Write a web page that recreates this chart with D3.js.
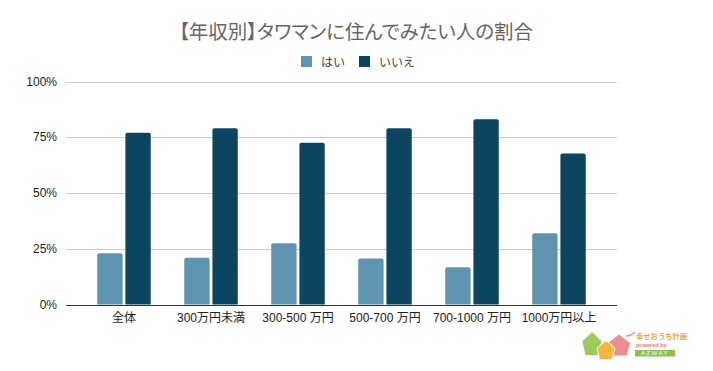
<!DOCTYPE html>
<html>
<head>
<meta charset="utf-8">
<script src="https://cdn.jsdelivr.net/npm/d3@7"></script>
<style>
  body { margin: 0; background: #fff; }
  svg { display: block; font-family: 'Liberation Sans', 'Noto Sans CJK JP', sans-serif; }
  .jp { font-feature-settings: "palt"; }
</style>
</head>
<body>
<svg id="chart" width="713" height="371"></svg>
<script>
let categories = ['全体', '300万円未満', '300-500 万円', '500-700 万円', '700-1000 万円', '1000万円以上']
let seriesNames = ['はい', 'いいえ']
let hai = [23, 21, 27.5, 20.6, 16.7, 32]
let iie = [77, 79, 72.5, 79, 83.1, 67.7]
let yTicks = [0, 25, 50, 75, 100]

let colors = ['#5f94b1', '#0b4560']

let plot = { left: 66, right: 617, top: 81.5, bottom: 304.5 }

let svg = d3.select('#chart')

let rows = categories.map((c, i) => ({ cat: c, values: [hai[i], iie[i]] }))

let x0 = d3.scaleBand()
  .domain(categories)
  .range([80.5, 602.5])

let x1 = d3.scaleBand()
  .domain(seriesNames)
  .range([0, 53.5])
  .paddingInner(0.1)

let y = d3.scaleLinear()
  .domain([0, 100])
  .range([plot.bottom, plot.top])

// title
svg.append('text')
  .attr('class', 'jp')
  .attr('x', 356)
  .attr('y', 30)
  .attr('text-anchor', 'middle')
  .attr('dominant-baseline', 'central')
  .attr('font-family', "'Noto Sans CJK JP', sans-serif")
  .attr('font-size', 19.5)
  .attr('fill', '#666')
  .text('【年収別】タワマンに住んでみたい人の割合')

// legend
let legend = svg.append('g')
let legendX = [301, 359]
seriesNames.forEach((name, i) => {
  legend.append('rect')
    .attr('x', legendX[i])
    .attr('y', 56)
    .attr('width', 11)
    .attr('height', 11)
    .attr('fill', colors[i])
  legend.append('text')
    .attr('x', legendX[i] + 20)
    .attr('y', 61.5)
    .attr('dominant-baseline', 'central')
    .attr('font-family', "'Noto Sans CJK JP', sans-serif")
    .attr('font-size', 12)
    .attr('fill', '#444')
    .text(name)
})

// gridlines + y labels
let yAxis = svg.append('g')
yAxis.selectAll('.grid')
  .data(yTicks.filter(d => d > 0))
  .enter()
  .append('line')
  .attr('x1', plot.left)
  .attr('x2', plot.right)
  .attr('y1', d => Math.round(y(d)) + 0.5)
  .attr('y2', d => Math.round(y(d)) + 0.5)
  .attr('stroke', '#cccccc')
  .attr('stroke-width', 1)

yAxis.selectAll('.ylab')
  .data(yTicks)
  .enter()
  .append('text')
  .attr('x', 57)
  .attr('y', d => y(d))
  .attr('text-anchor', 'end')
  .attr('dominant-baseline', 'central')
  .attr('font-size', 12)
  .attr('fill', '#222')
  .text(d => d + '%')

// bars
function topRounded(x, yTop, w, yBase, r) {
  return `M${x},${yBase}V${yTop + r}Q${x},${yTop} ${x + r},${yTop}H${x + w - r}Q${x + w},${yTop} ${x + w},${yTop + r}V${yBase}Z`
}

svg.selectAll('.group')
  .data(rows)
  .enter()
  .append('g')
  .attr('class', 'group')
  .attr('transform', d => `translate(${x0(d.cat) + (x0.bandwidth() - 53.5) / 2},0)`)
  .each(function(d) {
    d3.select(this)
      .selectAll('path')
      .data(d.values.map((v, i) => ({ key: seriesNames[i], v: v, i: i })))
      .enter()
      .append('path')
      .attr('d', b => topRounded(x1(b.key), y(b.v), x1.bandwidth(), y(0), 2))
      .attr('fill', b => colors[b.i])
  })

// baseline
svg.append('line')
  .attr('x1', plot.left)
  .attr('x2', plot.right)
  .attr('y1', Math.round(y(0)) + 0.5)
  .attr('y2', Math.round(y(0)) + 0.5)
  .attr('stroke', '#333')
  .attr('stroke-width', 1)

// x labels
svg.selectAll('.xlab')
  .data(categories)
  .enter()
  .append('text')
  .attr('x', d => x0(d) + x0.bandwidth() / 2)
  .attr('y', 318)
  .attr('text-anchor', 'middle')
  .attr('dominant-baseline', 'central')
  .attr('font-size', 12)
  .attr('fill', '#222')
  .text(d => d)

// logo
let logo = svg.append('g').attr('transform', 'translate(580,328)')
function house(cx, cy, w, h) {
  // flat-bottomed pentagon, point up
  let x = cx - w / 2
  let top = cy - h / 2
  let bot = cy + h / 2
  return `M${cx},${top}L${x + w},${top + h * 0.4}L${x + w * 0.85},${bot}L${x + w * 0.15},${bot}L${x},${top + h * 0.4}Z`
}
logo.append('path').attr('d', house(12, 15.5, 19, 23)).attr('fill', '#9ccc5a')
logo.append('path').attr('d', house(39, 17, 22, 21)).attr('fill', '#ee8d91')
logo.append('path').attr('d', house(26, 22, 18, 19)).attr('fill', '#f6b640').attr('stroke', '#fff').attr('stroke-width', 1)
logo.append('path').attr('d', 'M46,8 Q51,8 55,4').attr('stroke', '#ee8d91').attr('stroke-width', 1.5).attr('fill', 'none')
logo.append('text')
  .attr('x', 56).attr('y', 8)
  .attr('dominant-baseline', 'central')
  .attr('font-family', "'Noto Sans CJK JP', sans-serif")
  .attr('font-size', 7.3).attr('font-weight', 'bold')
  .attr('fill', '#f0a63a')
  .text('幸せおうち計画')
logo.append('text')
  .attr('x', 56).attr('y', 17)
  .attr('dominant-baseline', 'central')
  .attr('font-size', 5.5).attr('font-weight', 'bold')
  .attr('fill', '#e8787f')
  .text('powered by')
logo.append('rect')
  .attr('x', 55).attr('y', 22).attr('width', 40).attr('height', 6.5)
  .attr('fill', '#8cc34a')
logo.append('text')
  .attr('x', 75).attr('y', 25.4)
  .attr('text-anchor', 'middle').attr('dominant-baseline', 'central')
  .attr('font-size', 6).attr('letter-spacing', 1.5)
  .attr('fill', '#fff')
  .text('AZWAY')
</script>
</body>
</html>
